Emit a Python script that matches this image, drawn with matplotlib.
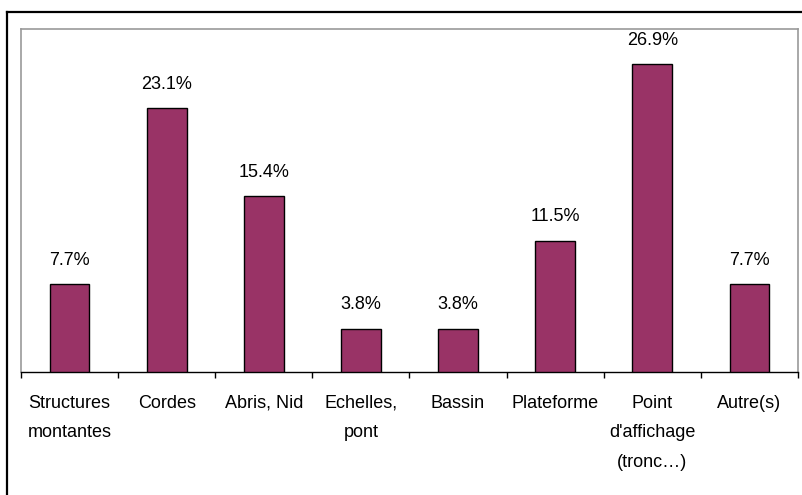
import matplotlib
matplotlib.use("Agg")
from matplotlib import pyplot as plt
from matplotlib.lines import Line2D
import numpy as np

categories = ["Structures\nmontantes", "Cordes", "Abris, Nid", "Echelles,\npont",
              "Bassin", "Plateforme", "Point\nd'affichage\n(tronc\u2026)", "Autre(s)"]
values = [7.7, 23.1, 15.4, 3.8, 3.8, 11.5, 26.9, 7.7]

plt.rcParams["font.family"] = ["Liberation Sans", "DejaVu Sans"]

W, H = 803, 495
fig = plt.figure(figsize=(W / 100, H / 100), dpi=100)

# outer frame (top and left edges visible)
fig.add_artist(Line2D([7 / W, 7 / W], [0, 1 - 12 / H], color="black", lw=1.6, transform=fig.transFigure))
fig.add_artist(Line2D([7 / W, 1], [1 - 12 / H, 1 - 12 / H], color="black", lw=1.6, transform=fig.transFigure))

ax = fig.add_axes([21 / W, 1 - 372 / H, (798 - 21) / W, (372 - 29) / H])
x = np.arange(len(categories))
bars = ax.bar(x, values, width=0.41, color="#993366", edgecolor="black", linewidth=1, zorder=3)

for xi, v in zip(x, values):
    ax.annotate("{:.1f}%".format(v), (xi, v), xytext=(0, 11), textcoords="offset points",
                ha="center", va="bottom", fontsize=13, color="black")

ax.set_xlim(-0.5, len(categories) - 0.5)
ax.set_ylim(0, 30)
ax.set_yticks([])

ax.set_xticks(x)
ax.set_xticklabels(categories, fontsize=13, linespacing=1.95, va="top")
ax.tick_params(axis="x", which="major", length=0, pad=16.5)
ax.set_xticks(np.arange(len(categories) + 1) - 0.5, minor=True)
ax.tick_params(axis="x", which="minor", length=4, width=1, direction="out", color="black")

for side in ("left", "top", "right"):
    ax.spines[side].set_color("#999999")
    ax.spines[side].set_linewidth(1.2)
ax.spines["bottom"].set_color("black")
ax.spines["bottom"].set_linewidth(1)

fig.savefig("out.png", dpi=100)
